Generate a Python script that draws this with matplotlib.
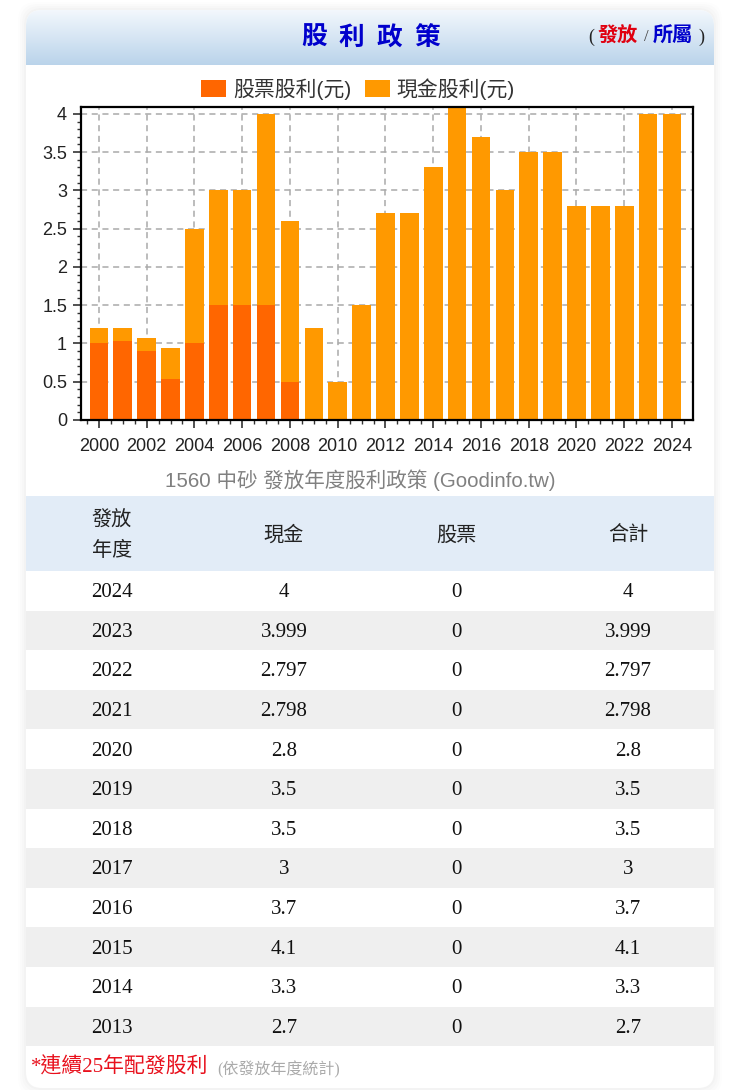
import numpy as np
import matplotlib
matplotlib.use("Agg")
import matplotlib.pyplot as plt
from matplotlib.patches import FancyBboxPatch, Rectangle

plt.rcParams['font.family'] = ['Liberation Sans', 'Noto Sans CJK TC', 'DejaVu Sans']

# data
years = list(range(2000, 2025))
stock = [1.0, 1.03, 0.9, 0.53, 1.0, 1.5, 1.5, 1.5, 0.5, 0, 0, 0, 0, 0, 0, 0, 0, 0, 0, 0, 0, 0, 0, 0, 0]
cash = [0.2, 0.17, 0.17, 0.41, 1.5, 1.5, 1.5, 2.5, 2.1, 1.2, 0.5, 1.5, 2.7, 2.7, 3.3, 4.1, 3.7, 3, 3.5, 3.5, 2.8, 2.798, 2.797, 3.999, 4]
y_ticks = [0, 0.5, 1, 1.5, 2, 2.5, 3, 3.5, 4]
y_labels = ['0', '0.5', '1', '1.5', '2', '2.5', '3', '3.5', '4']

table_header = ['現金', '股票', '合計']
table_years = ['2024', '2023', '2022', '2021', '2020', '2019', '2018', '2017', '2016', '2015', '2014', '2013']
table_cash = ['4', '3.999', '2.797', '2.798', '2.8', '3.5', '3.5', '3', '3.7', '4.1', '3.3', '2.7']
table_stock = ['0'] * 12
table_total = ['4', '3.999', '2.797', '2.798', '2.8', '3.5', '3.5', '3', '3.7', '4.1', '3.3', '2.7']

W, H = 740, 1090
fig = plt.figure(figsize=(W / 100, H / 100), dpi=100, facecolor='white')

# page layer in pixel coordinates
bg = fig.add_axes([0, 0, 1, 1])
bg.set_xlim(0, W)
bg.set_ylim(H, 0)
bg.axis('off')

# soft shadow around the card
for grow, alpha in [(8, 0.008), (6, 0.01), (4, 0.012), (2, 0.015)]:
    bg.add_patch(FancyBboxPatch((26 - grow, 10 - grow), 688 + 2 * grow, 1078 + 2 * grow,
                                boxstyle="round,pad=0,rounding_size=18", fc='black', ec='none', alpha=alpha))
card = FancyBboxPatch((26, 10), 688, 1078, boxstyle="round,pad=0,rounding_size=16", fc='white', ec='none')
bg.add_patch(card)

# title band
grad = np.linspace(0, 1, 64).reshape(-1, 1)
top = np.array([0.95, 0.97, 0.99])
bottom = np.array([0.73, 0.83, 0.92])
band = top + (bottom - top) * grad[..., None]
im = bg.imshow(band, extent=(26, 714, 65, 10), aspect='auto', zorder=2)
im.set_clip_path(card)
bg.set_xlim(0, W)
bg.set_ylim(H, 0)

for i, ch in enumerate('股利政策'):
    bg.text(314 + 37.7 * i, 38, ch, color='#0000cc', fontsize=18.5, fontweight='bold',
            ha='center', va='center', zorder=3)
bg.text(588, 37, '(', color='#222222', fontsize=13, family='Liberation Serif', va='center', zorder=3)
bg.text(598, 36, '發放', color='#e00010', fontsize=14.5, fontweight='bold', va='center', zorder=3)
bg.text(644, 37, '/', color='#444444', fontsize=12, family='Liberation Serif', va='center', zorder=3)
bg.text(653, 36, '所屬', color='#0000cc', fontsize=14.5, fontweight='bold', va='center', zorder=3)
bg.text(698, 37, ')', color='#222222', fontsize=13, family='Liberation Serif', va='center', zorder=3)

# chart
ax = fig.add_axes([81 / W, 1 - 420 / H, 612 / W, 313 / H], zorder=2)
ax.set_axisbelow(True)
ax.grid(True, which='major', color='#aaaaaa', linestyle=(0, (4, 3)), linewidth=1.1)
b1 = ax.bar(years, stock, width=0.78, color='#ff6600', label='股票股利(元)')
b2 = ax.bar(years, cash, width=0.78, bottom=stock, color='#ff9900', label='現金股利(元)')
ax.set_xlim(1999.25, 2024.88)
ax.set_ylim(0, 4.09)
ax.set_xticks(years[::2])
ax.set_xticks(np.arange(1999.5, 2025, 0.5), minor=True)
ax.set_yticks(y_ticks)
ax.set_yticklabels(y_labels)
ax.set_yticks(np.arange(0, 4.05, 0.1), minor=True)
ax.tick_params(axis='y', which='major', labelsize=13, length=6, width=1.2, color='#333333', pad=4, labelcolor='#222222')
ax.tick_params(axis='x', which='major', labelsize=13, length=6, width=1.2, color='#333333', pad=7, labelcolor='#222222')
ax.tick_params(axis='both', which='minor', length=3, width=1, color='#333333')
for spine in ax.spines.values():
    spine.set_linewidth(1.6)
    spine.set_color('black')
ax.legend(handles=[b1, b2], ncol=2, loc='lower center', bbox_to_anchor=(0.4526, 1.0), frameon=False,
          fontsize=15, handlelength=1.2, handleheight=0.85, handletextpad=0.33, columnspacing=0.67,
          labelcolor='#333333', borderpad=0.1, borderaxespad=0.25, labelspacing=0)

bg.text(360, 480, '1560 中砂 發放年度股利政策 (Goodinfo.tw)', color='#808080', fontsize=14.8,
        ha='center', va='center', zorder=3)

# table
col_x = [112, 284, 456, 628]
row_top = 571
row_h = 39.6
bg.add_patch(Rectangle((26, 496), 688, 75, fc='#e2ecf7', ec='none', zorder=2))
bg.text(col_x[0], 520, '發放', fontsize=14.5, color='#222222', family='Noto Sans CJK TC', ha='center', va='center', zorder=3)
bg.text(col_x[0], 551, '年度', fontsize=14.5, color='#222222', family='Noto Sans CJK TC', ha='center', va='center', zorder=3)
for x, name in zip(col_x[1:], table_header):
    bg.text(x, 535, name, fontsize=14.5, color='#222222', family='Noto Sans CJK TC', ha='center', va='center', zorder=3)

for i, row in enumerate(zip(table_years, table_cash, table_stock, table_total)):
    y = row_top + i * row_h
    if i % 2 == 1:
        bg.add_patch(Rectangle((26, y), 688, row_h, fc='#efefef', ec='none', zorder=2))
    for x, val in zip(col_x, row):
        bg.text(x, y + row_h / 2 + 2, val, fontsize=15, color='#111111', family='Liberation Serif',
                ha='center', va='center', zorder=3)

# footer
bg.text(31, 1067, '*連續25年配發股利', color='#e8101c', fontsize=15, family=['Liberation Serif', 'Noto Sans CJK TC'],
        ha='left', va='center', zorder=3)
bg.text(217, 1070, '(依發放年度統計)', color='#aaaaaa', fontsize=11.5, family=['Liberation Serif', 'Noto Sans CJK TC'],
        ha='left', va='center', zorder=3)

fig.savefig('out.png', dpi=100)
